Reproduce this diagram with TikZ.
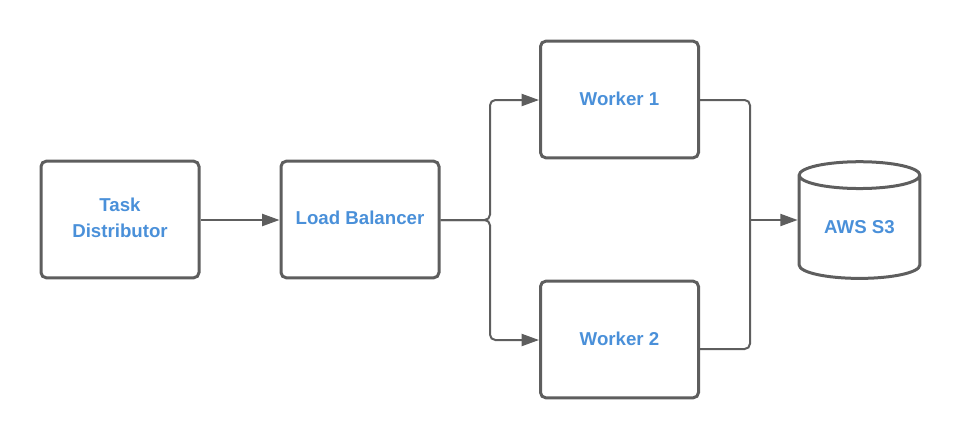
\documentclass[tikz,border=0pt]{standalone}
\usepackage{fontspec}
\setmainfont{Liberation Sans}
\usetikzlibrary{shapes.geometric,arrows.meta}
\definecolor{strokegray}{RGB}{94,94,94}
\definecolor{textblue}{RGB}{74,144,217}
\begin{document}
\begin{tikzpicture}[x=0.75pt,y=-0.75pt,
  box/.style={draw=strokegray,line width=2.25pt,rounded corners=4pt,
    minimum width=118.5pt,minimum height=87.5pt,inner sep=0pt,
    text=textblue,font=\bfseries\fontsize{14}{19.5}\selectfont,align=center},
  db/.style={draw=strokegray,line width=2.25pt,cylinder,shape border rotate=90,
    aspect=0.38,minimum width=90.5pt,minimum height=87.5pt,inner sep=0pt,
    text=textblue,font=\bfseries\fontsize{14}{19.5}\selectfont},
  conn/.style={draw=strokegray,line width=1.5pt,rounded corners=4pt},
  arr/.style={conn,-{Triangle[length=13pt,width=9pt]}}]
\useasboundingbox (0,0) rectangle (960,440);
\node[box] (td) at (120,219.5) {\raisebox{1.5pt}{\begin{tabular}{@{}c@{}}Task\\Distributor\end{tabular}}};
\node[box] (lb) at (360,219.5) {\raisebox{2pt}{Load Balancer}};
\node[box] (w1) at (619.5,99.5) {\raisebox{1.5pt}{Worker 1}};
\node[box] (w2) at (619.5,339.5) {\raisebox{1.5pt}{Worker 2}};
\node[db] (s3) at (859.5,227.5) {AWS S3};
\coordinate (j1) at (490,220);
\coordinate (j2) at (750,220);
\draw[arr] (td.east |- 0,220) -- (lb.west |- 0,220);
\draw[arr] (lb.east |- 0,220) -- (j1) -- (490,100) -- (w1.west |- 0,100);
\draw[arr] (lb.east |- 0,220) -- (j1) -- (490,340) -- (w2.west |- 0,340);
\draw[conn] (w1.east |- 0,100) -- (750,100) -- (j2);
\draw[conn] (w2.east |- 0,349) -- (750,349) -- (j2);
\draw[arr] (j2) -- (s3.west |- 0,220);
\end{tikzpicture}
\end{document}
